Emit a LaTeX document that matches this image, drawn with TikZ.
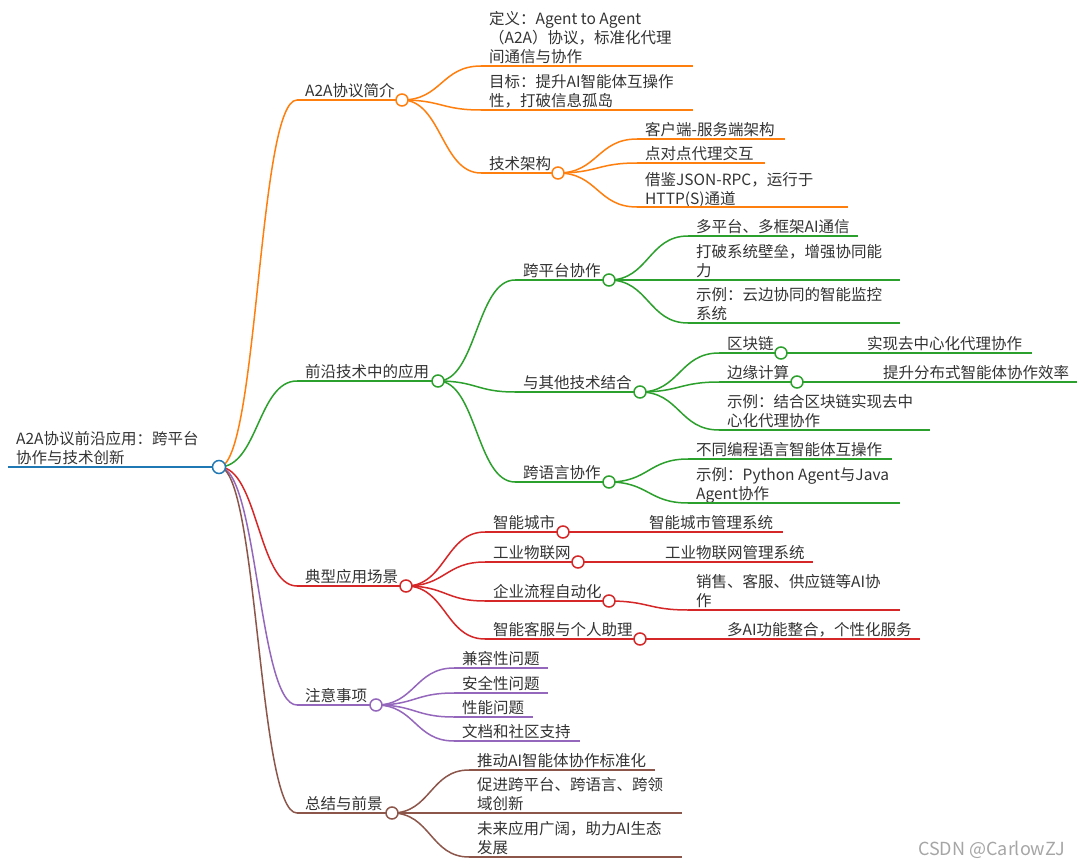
\documentclass[tikz,border=0pt]{standalone}
\usepackage{fontspec}
\setmainfont{Noto Sans CJK SC}
\usepackage{xcolor}
\usepackage{tikz}
\usetikzlibrary{calc}
\definecolor{trunk}{HTML}{1F77B4}
\definecolor{orng}{HTML}{FF7F0E}
\definecolor{grn}{HTML}{2CA02C}
\definecolor{rd}{HTML}{D62728}
\definecolor{prpl}{HTML}{9467BD}
\definecolor{brwn}{HTML}{8C564B}
\definecolor{ink}{HTML}{333333}
\tikzset{
  topic/.style={anchor=south west, inner sep=0pt, align=left, text=ink, font=\fontsize{15.5}{19}\selectfont},
  dot/.style  ={circle, draw, fill=white, line width=1.5pt, minimum size=12pt, inner sep=0pt},
  wire/.style ={line width=1.5pt},
  link/.style ={line width=1.5pt, to path={let \p1=(\tikztostart), \p2=(\tikztotarget) in
      .. controls ({(\x1+\x2)/2},\y1) and ({(\x1+\x2)/2},\y2) .. (\tikztotarget)}},
  wmark/.style={anchor=west, inner sep=0pt, text=black!35, font=\fontsize{18}{20}\selectfont},
}
\begin{document}
\begin{tikzpicture}[x=1pt,y=-1pt]
  \fill[white] (0,0) rectangle (1077,867);
  \useasboundingbox (0,0) rectangle (1077,867);

  % root
  \coordinate (root-s) at (8,467);
  \node[topic] (root) at (16,465) {A2A协议前沿应用：跨平台\\协作与技术创新};

  % orange branch
  \coordinate (intro-s) at (297,100);
  \node[topic] (intro) at (305,98) {A2A协议简介};
  \coordinate (def-s) at (481,66);   \coordinate (def-e) at (693,66);
  \node[topic] (def) at (489,64) {定义：Agent to Agent\\（A2A）协议，标准化代理\\间通信与协作};
  \coordinate (goal-s) at (481,110); \coordinate (goal-e) at (693,110);
  \node[topic] (goal) at (489,108) {目标：提升AI智能体互操作\\性，打破信息孤岛};
  \coordinate (arch-s) at (481,173);
  \node[topic] (arch) at (489,171) {技术架构};
  \coordinate (cs-s) at (637,139);   \coordinate (cs-e) at (785,139);
  \node[topic] (cs) at (645,137) {客户端-服务端架构};
  \coordinate (p2p-s) at (637,163);  \coordinate (p2p-e) at (765,163);
  \node[topic] (p2p) at (645,161) {点对点代理交互};
  \coordinate (json-s) at (637,207); \coordinate (json-e) at (848,207);
  \node[topic,yshift=-2.5pt] (json) at (645,205) {借鉴JSON-RPC，运行于\\HTTP(S)通道};

  % green branch
  \coordinate (app-s) at (297,381);
  \node[topic] (app) at (305,379) {前沿技术中的应用};
  \coordinate (xplat-s) at (515,280);
  \node[topic] (xplat) at (523,278) {跨平台协作};
  \coordinate (multi-s) at (688,236); \coordinate (multi-e) at (858,236);
  \node[topic] (multi) at (696,234) {多平台、多框架AI通信};
  \coordinate (wall-s) at (688,280);  \coordinate (wall-e) at (900,280);
  \node[topic] (wall) at (696,278) {打破系统壁垒，增强协同能\\力};
  \coordinate (cloud-s) at (688,323); \coordinate (cloud-e) at (900,323);
  \node[topic] (cloud) at (696,321) {示例：云边协同的智能监控\\系统};
  \coordinate (combo-s) at (515,392);
  \node[topic] (combo) at (523,390) {与其他技术结合};
  \coordinate (chain-s) at (719,353);
  \node[topic] (chain) at (727,351) {区块链};
  \coordinate (decen-s) at (859,353); \coordinate (decen-e) at (1032,353);
  \node[topic] (decen) at (867,351) {实现去中心化代理协作};
  \coordinate (rim-s) at (719,382);
  \node[topic] (rim) at (727,380) {边缘计算};
  \coordinate (distr-s) at (875,382); \coordinate (distr-e) at (1077,382);
  \node[topic] (distr) at (883,380) {提升分布式智能体协作效率};
  \coordinate (chainex-s) at (719,430); \coordinate (chainex-e) at (930,430);
  \node[topic] (chainex) at (727,428) {示例：结合区块链实现去中\\心化代理协作};
  \coordinate (xlang-s) at (515,482);
  \node[topic] (xlang) at (523,480) {跨语言协作};
  \coordinate (interop-s) at (688,459); \coordinate (interop-e) at (892,459);
  \node[topic] (interop) at (696,457) {不同编程语言智能体互操作};
  \coordinate (pyjava-s) at (688,503); \coordinate (pyjava-e) at (900,503);
  \node[topic,yshift=-2.5pt] (pyjava) at (696,501) {示例：Python Agent与Java\\Agent协作};

  % red branch
  \coordinate (scene-s) at (297,586);
  \node[topic] (scene) at (305,584) {典型应用场景};
  \coordinate (city-s) at (485,532);
  \node[topic] (city) at (493,530) {智能城市};
  \coordinate (citysys-s) at (641,532); \coordinate (citysys-e) at (783,532);
  \node[topic] (citysys) at (649,530) {智能城市管理系统};
  \coordinate (iiot-s) at (485,562);
  \node[topic] (iiot) at (493,560) {工业物联网};
  \coordinate (iiotsys-s) at (657,562); \coordinate (iiotsys-e) at (813,562);
  \node[topic] (iiotsys) at (665,560) {工业物联网管理系统};
  \coordinate (flow-s) at (485,601);
  \node[topic] (flow) at (493,599) {企业流程自动化};
  \coordinate (sales-s) at (688,610); \coordinate (sales-e) at (900,610);
  \node[topic] (sales) at (696,608) {销售、客服、供应链等AI协\\作};
  \coordinate (assist-s) at (485,639);
  \node[topic] (assist) at (493,637) {智能客服与个人助理};
  \coordinate (multiai-s) at (719,639); \coordinate (multiai-e) at (920,639);
  \node[topic] (multiai) at (727,637) {多AI功能整合，个性化服务};

  % purple branch
  \coordinate (care-s) at (297,705);
  \node[topic] (care) at (305,703) {注意事项};
  \coordinate (compat-s) at (454,668); \coordinate (compat-e) at (548,668);
  \node[topic] (compat) at (462,666) {兼容性问题};
  \coordinate (safe-s) at (454,693);   \coordinate (safe-e) at (548,693);
  \node[topic] (safe) at (462,691) {安全性问题};
  \coordinate (perf-s) at (454,717);   \coordinate (perf-e) at (533,717);
  \node[topic] (perf) at (462,715) {性能问题};
  \coordinate (docs-s) at (454,741);   \coordinate (docs-e) at (580,741);
  \node[topic] (docs) at (462,739) {文档和社区支持};

  % brown branch
  \coordinate (sum-s) at (297,813);
  \node[topic] (sum) at (305,811) {总结与前景};
  \coordinate (std-s) at (469,770);   \coordinate (std-e) at (655,770);
  \node[topic] (std) at (477,768) {推动AI智能体协作标准化};
  \coordinate (innov-s) at (469,813); \coordinate (innov-e) at (682,813);
  \node[topic] (innov) at (477,811) {促进跨平台、跨语言、跨领\\域创新};
  \coordinate (eco-s) at (469,857);   \coordinate (eco-e) at (682,857);
  \node[topic] (eco) at (477,855) {未来应用广阔，助力AI生态\\发展};

  % junction points (dots are drawn on top below)
  \coordinate (root-c) at (219,467);
  \coordinate (intro-c) at (402,100);
  \coordinate (arch-c) at (558,173);
  \coordinate (app-c) at (438,381);
  \coordinate (xplat-c) at (609,280);
  \coordinate (combo-c) at (640,392);
  \coordinate (chain-c) at (781,353);
  \coordinate (rim-c) at (797,382);
  \coordinate (xlang-c) at (609,482);
  \coordinate (scene-c) at (406,586);
  \coordinate (city-c) at (563,532);
  \coordinate (iiot-c) at (578,562);
  \coordinate (flow-c) at (609,601);
  \coordinate (assist-c) at (640,639);
  \coordinate (care-c) at (376,705);
  \coordinate (sum-c) at (392,813);

  % connectors and underlines
  \draw[trunk,line width=2.5pt] (root-s) -- (root-c);
  \draw[orng,link] (root-c) to (intro-s);
  \draw[grn,link] (root-c) to (app-s);
  \draw[rd,link] (root-c) to (scene-s);
  \draw[prpl,link] (root-c) to (care-s);
  \draw[brwn,link] (root-c) to (sum-s);

  \draw[orng,wire] (intro-s) -- (intro-c);
  \draw[orng,link] (intro-c) to (def-s);
  \draw[orng,link] (intro-c) to (goal-s);
  \draw[orng,link] (intro-c) to (arch-s);
  \draw[orng,wire] (def-s) -- (def-e);
  \draw[orng,wire] (goal-s) -- (goal-e);
  \draw[orng,wire] (arch-s) -- (arch-c);
  \draw[orng,link] (arch-c) to (cs-s);
  \draw[orng,link] (arch-c) to (p2p-s);
  \draw[orng,link] (arch-c) to (json-s);
  \draw[orng,wire] (cs-s) -- (cs-e);
  \draw[orng,wire] (p2p-s) -- (p2p-e);
  \draw[orng,wire] (json-s) -- (json-e);

  \draw[grn,wire] (app-s) -- (app-c);
  \draw[grn,link] (app-c) to (xplat-s);
  \draw[grn,link] (app-c) to (combo-s);
  \draw[grn,link] (app-c) to (xlang-s);
  \draw[grn,wire] (xplat-s) -- (xplat-c);
  \draw[grn,link] (xplat-c) to (multi-s);
  \draw[grn,link] (xplat-c) to (wall-s);
  \draw[grn,link] (xplat-c) to (cloud-s);
  \draw[grn,wire] (multi-s) -- (multi-e);
  \draw[grn,wire] (wall-s) -- (wall-e);
  \draw[grn,wire] (cloud-s) -- (cloud-e);
  \draw[grn,wire] (combo-s) -- (combo-c);
  \draw[grn,link] (combo-c) to (chain-s);
  \draw[grn,link] (combo-c) to (rim-s);
  \draw[grn,link] (combo-c) to (chainex-s);
  \draw[grn,wire] (chain-s) -- (chain-c);
  \draw[grn,link] (chain-c) to (decen-s);
  \draw[grn,wire] (decen-s) -- (decen-e);
  \draw[grn,wire] (rim-s) -- (rim-c);
  \draw[grn,link] (rim-c) to (distr-s);
  \draw[grn,wire] (distr-s) -- (distr-e);
  \draw[grn,wire] (chainex-s) -- (chainex-e);
  \draw[grn,wire] (xlang-s) -- (xlang-c);
  \draw[grn,link] (xlang-c) to (interop-s);
  \draw[grn,link] (xlang-c) to (pyjava-s);
  \draw[grn,wire] (interop-s) -- (interop-e);
  \draw[grn,wire] (pyjava-s) -- (pyjava-e);

  \draw[rd,wire] (scene-s) -- (scene-c);
  \draw[rd,link] (scene-c) to (city-s);
  \draw[rd,link] (scene-c) to (iiot-s);
  \draw[rd,link] (scene-c) to (flow-s);
  \draw[rd,link] (scene-c) to (assist-s);
  \draw[rd,wire] (city-s) -- (city-c);
  \draw[rd,link] (city-c) to (citysys-s);
  \draw[rd,wire] (citysys-s) -- (citysys-e);
  \draw[rd,wire] (iiot-s) -- (iiot-c);
  \draw[rd,link] (iiot-c) to (iiotsys-s);
  \draw[rd,wire] (iiotsys-s) -- (iiotsys-e);
  \draw[rd,wire] (flow-s) -- (flow-c);
  \draw[rd,link] (flow-c) to (sales-s);
  \draw[rd,wire] (sales-s) -- (sales-e);
  \draw[rd,wire] (assist-s) -- (assist-c);
  \draw[rd,link] (assist-c) to (multiai-s);
  \draw[rd,wire] (multiai-s) -- (multiai-e);

  \draw[prpl,wire] (care-s) -- (care-c);
  \draw[prpl,link] (care-c) to (compat-s);
  \draw[prpl,link] (care-c) to (safe-s);
  \draw[prpl,link] (care-c) to (perf-s);
  \draw[prpl,link] (care-c) to (docs-s);
  \draw[prpl,wire] (compat-s) -- (compat-e);
  \draw[prpl,wire] (safe-s) -- (safe-e);
  \draw[prpl,wire] (perf-s) -- (perf-e);
  \draw[prpl,wire] (docs-s) -- (docs-e);

  \draw[brwn,wire] (sum-s) -- (sum-c);
  \draw[brwn,link] (sum-c) to (std-s);
  \draw[brwn,link] (sum-c) to (innov-s);
  \draw[brwn,link] (sum-c) to (eco-s);
  \draw[brwn,wire] (std-s) -- (std-e);
  \draw[brwn,wire] (innov-s) -- (innov-e);
  \draw[brwn,wire] (eco-s) -- (eco-e);

  % junction dots
  \node[dot,draw=trunk,minimum size=13pt] (root-d) at (root-c) {};
  \foreach \j/\c in {intro/orng, arch/orng, app/grn, xplat/grn, combo/grn, chain/grn,
      rim/grn, xlang/grn, scene/rd, city/rd, iiot/rd, flow/rd, assist/rd, care/prpl, sum/brwn}
    \node[dot,draw=\c] (\j-d) at (\j-c) {};

  \node[wmark] (wm) at (918,850) {CSDN @CarlowZJ};
\end{tikzpicture}
\end{document}
